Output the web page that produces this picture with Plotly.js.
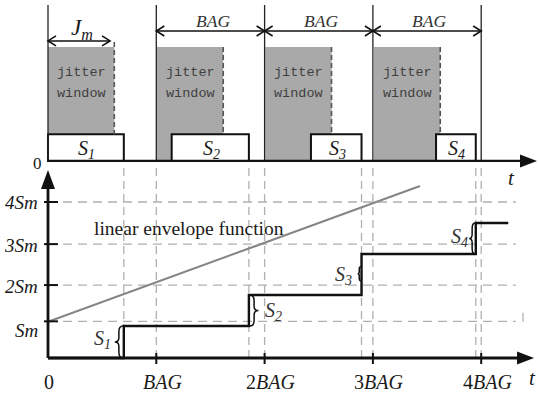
<!DOCTYPE html>
<html>
<head>
<meta charset="utf-8">
<script src="https://cdn.plot.ly/plotly-3.0.1.min.js"></script>
<style>html,body{margin:0;padding:0;background:#fff;}#chart{width:538px;height:394px;}</style>
</head>
<body>
<div id="chart"></div>
<script>
// ---------- data (x in BAG units, bottom y in Sm-scale units, top y in window-height units) ----------
const bagTicks = [0, 1, 2, 3, 4];
const xTickLabels = ['0', '<i>BAG</i>', '2<i>BAG</i>', '3<i>BAG</i>', '4<i>BAG</i>'];
const smTicks = [0.94, 1.87, 2.92, 4.0];
const smLabels = ['<i>Sm</i>', '<i>2Sm</i>', '<i>3Sm</i>', '<i>4Sm</i>'];
const frameNames = ['1', '2', '3', '4'];
const frameStart = [0, 1.142, 2.428, 3.583];
const frameEnd = [0.70, 1.855, 2.895, 3.95];
const windowStart = [0, 1.006, 2.006, 3.01];
const jitterWidth = 0.612;
const stepLevels = [0.82, 1.615, 2.667, 3.46];
const stepTail = 4.25;
const envelopeX = [0, 3.435];
const envelopeY = [0.93, 4.41];
const bagArrowPairs = [[1, 2], [2, 3], [3, 4]];
const jmArrow = [0, 0.573];
const gridEndX = 4.32;

// ---------- geometry helpers ----------
const PX = 108.3, PY = 39, PY2 = 114;   // pixels per unit on x, y, y2
const frameTop = 0.234, windowTop = 1.0, jmY = 1.053, bagY = 1.14, lineTop = 1.368;
const traces = [];
function seg(xs, ys, opts, axis) {
  traces.push(Object.assign({x: xs, y: ys, mode: 'lines', hoverinfo: 'skip', yaxis: axis || 'y'}, opts));
}
// top panel thin vertical lines
{
  const xs = [], ys = [];
  bagTicks.forEach(b => { xs.push(b, b, null); ys.push(0, lineTop, null); });
  seg(xs, ys, {line: {color: '#222', width: 1.3}}, 'y2');
}
// jitter window dashed right edges
{
  const xs = [], ys = [];
  windowStart.forEach((w, i) => { xs.push(w + jitterWidth, w + jitterWidth, null); ys.push(i === 0 ? 1.044 : windowTop, frameTop, null); });
  seg(xs, ys, {line: {color: '#555', width: 1.6, dash: '5px,3px'}}, 'y2');
}
// double arrows (Jm and BAG) with open heads
{
  const hx = 8 / PX, hy = 5 / PY2;
  const xs = [], ys = [];
  const arrows = [[jmArrow[0], jmArrow[1], jmY]].concat(bagArrowPairs.map(p => [p[0], p[1], bagY]));
  arrows.forEach(a => {
    const [x0, x1, yy] = a;
    xs.push(x0, x1, null); ys.push(yy, yy, null);
    xs.push(x0 + hx, x0, x0 + hx, null); ys.push(yy + hy, yy, yy - hy, null);
    xs.push(x1 - hx, x1, x1 - hx, null); ys.push(yy + hy, yy, yy - hy, null);
  });
  seg(xs, ys, {line: {color: '#111', width: 1.6}}, 'y2');
}
// bottom panel: dashed vertical guides
{
  const xs = [], ys = [];
  bagTicks.slice(1).concat(frameEnd).forEach(v => { xs.push(v, v, null); ys.push(0, 5.0, null); });
  seg(xs, ys, {line: {color: '#b0b0b0', width: 1.3, dash: '8px,5px'}});
}
// horizontal dashed Sm grid
{
  const xs = [], ys = [];
  smTicks.forEach(t => { xs.push(0, gridEndX, null); ys.push(t, t, null); });
  xs.push(4.386, 4.386, null); ys.push(0.93, 1.18, null);
  seg(xs, ys, {line: {color: '#b0b0b0', width: 1.3, dash: '9px,6px'}});
}
// envelope
seg(envelopeX, envelopeY, {line: {color: '#858585', width: 2}});
// step (cumulative sent data)
{
  const xs = [0], ys = [0];
  let prev = 0;
  frameEnd.forEach((f, i) => { xs.push(f, f); ys.push(prev, stepLevels[i]); prev = stepLevels[i]; });
  xs.push(stepTail); ys.push(prev);
  seg(xs, ys, {line: {color: '#111', width: 2.4}});
}
// axis tick marks
{
  const xs = [], ys = [];
  smTicks.forEach(t => { xs.push(-0.037, 0.092, null); ys.push(t, t, null); });
  bagTicks.slice(1).forEach(b => { xs.push(b, b, null); ys.push(0.128, -0.154, null); });
  seg(xs, ys, {line: {color: '#111', width: 2}});
}
// axis lines (arrow heads added as shapes)
const topAxisTip = 4.515, botAxisTip = 4.488, yAxisTip = 4.82;
seg([0, topAxisTip - 10 / PX], [0, 0], {line: {color: '#111', width: 2.2}}, 'y2');
seg([0, botAxisTip - 10 / PX], [0, 0], {line: {color: '#111', width: 2.8}});
seg([0, 0], [0, yAxisTip - 10 / PY], {line: {color: '#111', width: 2.8}});

// ---------- shapes ----------
const shapes = [];
windowStart.forEach(w => shapes.push({type: 'rect', xref: 'x', yref: 'y2', x0: w, x1: w + jitterWidth, y0: 0, y1: windowTop,
  fillcolor: '#a9a9a9', line: {width: 0}, layer: 'below'}));
frameStart.forEach((s, i) => shapes.push({type: 'rect', xref: 'x', yref: 'y2', x0: s, x1: frameEnd[i], y0: 0, y1: frameTop,
  fillcolor: '#ffffff', line: {color: '#111', width: 2}, layer: 'below'}));
const f4 = n => n.toFixed(4);
function brace(x, y0, y1, dir, w) {
  const ym = (y0 + y1) / 2, h = y1 - y0, m = x + dir * w * 0.5, tip = x + dir * w;
  return `M${f4(x)},${f4(y1)} Q${f4(m)},${f4(y1)} ${f4(m)},${f4(y1 - h * 0.18)} L${f4(m)},${f4(ym + h * 0.14)} Q${f4(m)},${f4(ym)} ${f4(tip)},${f4(ym)} ` +
         `Q${f4(m)},${f4(ym)} ${f4(m)},${f4(ym - h * 0.14)} L${f4(m)},${f4(y0 + h * 0.18)} Q${f4(m)},${f4(y0)} ${f4(x)},${f4(y0)}`;
}
const braces = [
  [frameEnd[0] - 0.008, 0, stepLevels[0], -1, 0.075],
  [frameEnd[1] + 0.008, stepLevels[0], stepLevels[1], 1, 0.08],
  [frameEnd[2] - 0.006, 1.98, 2.34, -1, 0.03],
  [frameEnd[3] - 0.006, stepLevels[2], stepLevels[3], -1, 0.055]
];
braces.forEach(b => shapes.push({type: 'path', xref: 'x', yref: 'y', path: brace(b[0], b[1], b[2], b[3], b[4]),
  line: {color: '#111', width: 1.5}}));
// filled arrow heads for the axes
function headPath(tx, ty, dir, lenU, halfU) {
  if (dir === 'right') return `M${f4(tx)},${f4(ty)} L${f4(tx - lenU)},${f4(ty + halfU)} L${f4(tx - lenU)},${f4(ty - halfU)} Z`;
  return `M${f4(tx)},${f4(ty)} L${f4(tx - halfU)},${f4(ty - lenU)} L${f4(tx + halfU)},${f4(ty - lenU)} Z`;
}
shapes.push({type: 'path', xref: 'x', yref: 'y2', path: headPath(topAxisTip, 0, 'right', 17 / PX, 6.5 / PY2), fillcolor: '#111', line: {width: 0}});
shapes.push({type: 'path', xref: 'x', yref: 'y', path: headPath(botAxisTip, 0, 'right', 17 / PX, 6.5 / PY), fillcolor: '#111', line: {width: 0}});
shapes.push({type: 'path', xref: 'x', yref: 'y', path: headPath(0, yAxisTip, 'up', 19 / PY, 7 / PX), fillcolor: '#111', line: {width: 0}});

// ---------- annotations ----------
const serif = 'Liberation Serif, Times New Roman, serif';
const ann = [];
function txt(x, y, text, size, opts) {
  ann.push(Object.assign({x: x, y: y, xref: 'x', yref: 'y', text: text, showarrow: false,
    font: {family: serif, size: size, color: '#1a1a1a'}}, opts || {}));
}
// x tick labels
bagTicks.forEach((b, i) => txt(b, -0.615, xTickLabels[i], 20, {xshift: i === 0 ? 1 : 6}));
// y tick labels
smTicks.forEach((t, i) => txt(-0.074, t, smLabels[i], 19, {xanchor: 'right', yshift: i === 0 ? -9 : -1}));
// t labels and top zero
txt(4.284, -0.149, '<i>t</i>', 21, {yref: 'y2'});
txt(4.478, -0.513, '<i>t</i>', 21);
txt(-0.10, -0.026, '0', 17, {yref: 'y2'});
// envelope label
txt(1.302, 3.333, 'linear envelope function', 19.5);
// frame labels in boxes and near the steps
frameStart.forEach((s, i) => txt((s + frameEnd[i]) / 2 + 0.01, 0.105, '<i>S</i><sub><i>' + frameNames[i] + '</i></sub>', 20, {yref: 'y2'}));
const stepLabelX = [0.505, 2.085, 2.724, 3.804];
const stepLabelY = [0.487, 1.18, 2.128, 3.077];
stepLabelX.forEach((x, i) => txt(x, stepLabelY[i], '<i>S</i><sub><i>' + frameNames[i] + '</i></sub>', 20, {font: {family: serif, size: 20, color: '#333'}}));
// jitter window labels
windowStart.forEach(w => {
  const c = w + jitterWidth / 2;
  ['jitter', 'window'].forEach((s, k) => ann.push({x: c, y: k === 0 ? 0.772 : 0.588, xref: 'x', yref: 'y2', text: s, showarrow: false,
    font: {family: 'Liberation Mono, DejaVu Sans Mono, monospace', size: 13.5, color: '#3f3f3f'}}));
});
// Jm and BAG labels
txt(0.314, 1.16, '<i>J</i><sub><i>m</i></sub>', 23, {yref: 'y2'});
bagArrowPairs.forEach(p => txt((p[0] + p[1]) / 2 + 0.02, 1.225, '<i>BAG</i>', 17.5, {yref: 'y2', font: {family: serif, size: 17.5, color: '#333'}}));

const layout = {
  width: 538, height: 394, margin: {l: 0, r: 0, t: 0, b: 0},
  paper_bgcolor: '#ffffff', plot_bgcolor: 'rgba(0,0,0,0)', showlegend: false,
  xaxis: {range: [-0.4432, 4.5245], visible: false, fixedrange: true},
  yaxis: {range: [-0.923, 9.179], visible: false, fixedrange: true},
  yaxis2: {range: [-2.044, 1.412], visible: false, overlaying: 'y', fixedrange: true},
  shapes: shapes, annotations: ann
};
Plotly.newPlot('chart', traces, layout, {staticPlot: true, displayModeBar: false});
</script>
</body>
</html>
